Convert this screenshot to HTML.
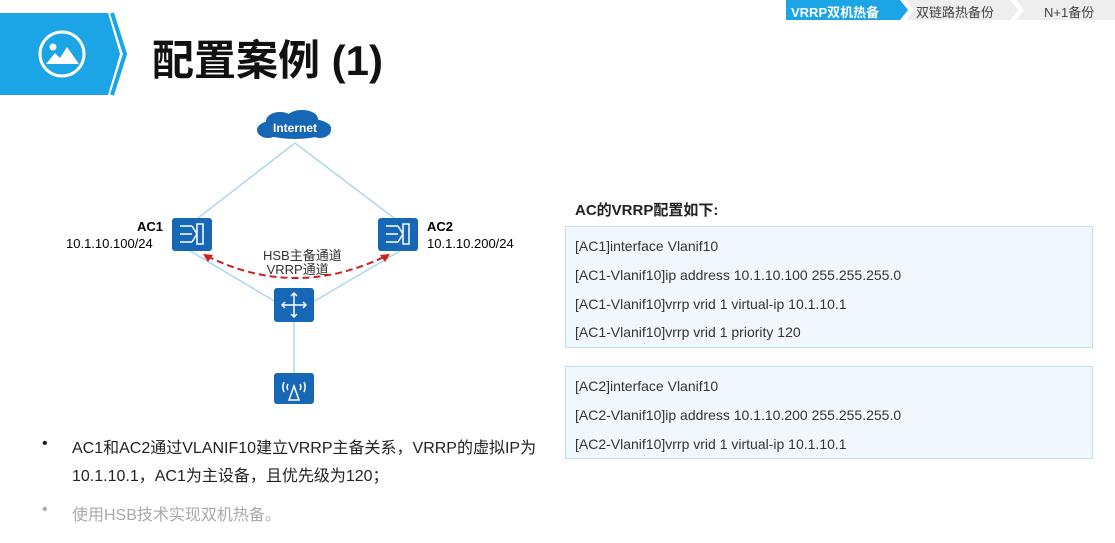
<!DOCTYPE html>
<html><head><meta charset="utf-8"><style>
body{margin:0;width:1115px;height:543px;background:#fff;overflow:hidden;position:relative;font-family:"Liberation Sans","Noto Sans CJK SC",sans-serif;}
.a{position:absolute;white-space:nowrap;}
.box{position:absolute;left:565px;width:528px;background:#f1f8fd;border:1px solid #bfe0ee;box-sizing:border-box;}
.box div{position:absolute;left:9px;font-size:14px;color:#333;}
</style></head><body>
<svg class="a" style="left:0;top:0" width="1115" height="543">
  <polygon points="0,13 108,13 120,54 108,95 0,95" fill="#1ba4e6"/>
  <polyline points="112,13 125,54 112,95" fill="none" stroke="#1ba4e6" stroke-width="4"/>
  <circle cx="62" cy="54" r="22" fill="none" stroke="#fff" stroke-width="3"/>
  <circle cx="53" cy="47" r="3.5" fill="#fff"/>
  <polygon points="46,64 55,53 60,58 67,47 79,64" fill="#fff"/>
  <polygon points="786,0 900,0 908,10 900,20 786,20" fill="#1ba4e6"/>
  <polygon points="906,0 1010,0 1018,10 1010,20 906,20 914,10" fill="#eeeeee"/>
  <polygon points="1016,0 1115,0 1115,20 1016,20 1024,10" fill="#eeeeee"/>
  <g stroke="#9dd3ea" stroke-width="1.3" fill="none">
    <line x1="295" y1="143" x2="198" y2="218"/>
    <line x1="295" y1="143" x2="394" y2="218"/>
    <line x1="190" y1="251" x2="276" y2="302"/>
    <line x1="400" y1="251" x2="313" y2="302"/>
    <line x1="294" y1="322" x2="294" y2="373"/>
  </g>
  <g fill="#1667b5">
    <ellipse cx="295" cy="128" rx="36" ry="11"/>
    <ellipse cx="280" cy="121" rx="14" ry="9"/>
    <ellipse cx="302" cy="119" rx="16" ry="9"/>
    <ellipse cx="268" cy="130" rx="11" ry="8"/>
    <ellipse cx="320" cy="130" rx="11" ry="8"/>
  </g>
  <text x="295" y="132" font-size="12" font-weight="bold" fill="#fff" text-anchor="middle" font-family="Liberation Sans">Internet</text>
  <g fill="#1667b5">
    <rect x="172" y="218" width="40" height="33" rx="3"/>
    <rect x="378" y="218" width="40" height="33" rx="3"/>
    <rect x="274" y="288" width="40" height="34" rx="3"/>
    <rect x="274" y="373" width="40" height="31" rx="3"/>
  </g>
  <g stroke="#fff" stroke-width="1.5" fill="none">
    <path d="M180,226h12M180,234h12M180,242h12M192,226l5,8l-5,8M197,224v20h6v-20z"/>
    <path d="M386,226h12M386,234h12M386,242h12M398,226l5,8l-5,8M403,224v20h6v-20z"/>
    <path d="M282,305h24M294,293v24M285,302l-3,3l3,3M303,302l3,3l-3,3M291,296l3,-3l3,3M291,314l3,3l3,-3"/>
    <path d="M294,386l-5,14h10z M284,382a12,12 0 0 0 0,10M304,382a12,12 0 0 1 0,10M288,384a6,6 0 0 0 0,6M300,384a6,6 0 0 1 0,6"/>
  </g>
  <path d="M207,256 Q295,300 386,256" fill="none" stroke="#d21f1f" stroke-width="2" stroke-dasharray="7,4"/>
  <polygon points="203,254 213,255 208,262" fill="#d21f1f"/>
  <polygon points="390,254 380,255 385,262" fill="#d21f1f"/>
</svg>
<div class="a" style="left:152px;top:27px;font-size:42px;font-weight:bold;color:#111;">配置案例 (1)</div>
<div class="a" style="left:791px;top:2px;font-size:13px;font-weight:bold;color:#fff;">VRRP双机热备</div>
<div class="a" style="left:916px;top:2px;font-size:13px;color:#444;">双链路热备份</div>
<div class="a" style="left:1044px;top:2px;font-size:13px;color:#444;">N+1备份</div>
<div class="a" style="left:137px;top:219px;font-size:13px;font-weight:bold;">AC1</div>
<div class="a" style="left:66px;top:236px;font-size:13px;">10.1.10.100/24</div>
<div class="a" style="left:427px;top:219px;font-size:13px;font-weight:bold;">AC2</div>
<div class="a" style="left:427px;top:236px;font-size:13px;">10.1.10.200/24</div>
<div class="a" style="left:263px;top:249px;font-size:13px;color:#333;line-height:14px;">HSB主备通道<br>&nbsp;VRRP通道</div>
<div class="a" style="left:575px;top:199px;font-size:15px;font-weight:bold;color:#222;">AC的VRRP配置如下:</div>
<div class="box" style="top:226px;height:122px;">
  <div style="top:11px">[AC1]interface Vlanif10</div>
  <div style="top:40px">[AC1-Vlanif10]ip address 10.1.10.100 255.255.255.0</div>
  <div style="top:69px">[AC1-Vlanif10]vrrp vrid 1 virtual-ip 10.1.10.1</div>
  <div style="top:97px">[AC1-Vlanif10]vrrp vrid 1 priority 120</div>
</div>
<div class="box" style="top:366px;height:93px;">
  <div style="top:11px">[AC2]interface Vlanif10</div>
  <div style="top:40px">[AC2-Vlanif10]ip address 10.1.10.200 255.255.255.0</div>
  <div style="top:69px">[AC2-Vlanif10]vrrp vrid 1 virtual-ip 10.1.10.1</div>
</div>
<div class="a" style="left:42px;top:435px;font-size:16px;color:#222;">•</div>
<div class="a" style="left:72px;top:435px;font-size:16px;color:#222;line-height:28px;">AC1和AC2通过VLANIF10建立VRRP主备关系，VRRP的虚拟IP为<br>10.1.10.1，AC1为主设备，且优先级为120；</div>
<div class="a" style="left:42px;top:501px;font-size:16px;color:#aaa;">•</div>
<div class="a" style="left:72px;top:501px;font-size:16px;color:#aaa;">使用HSB技术实现双机热备。</div>
</body></html>
